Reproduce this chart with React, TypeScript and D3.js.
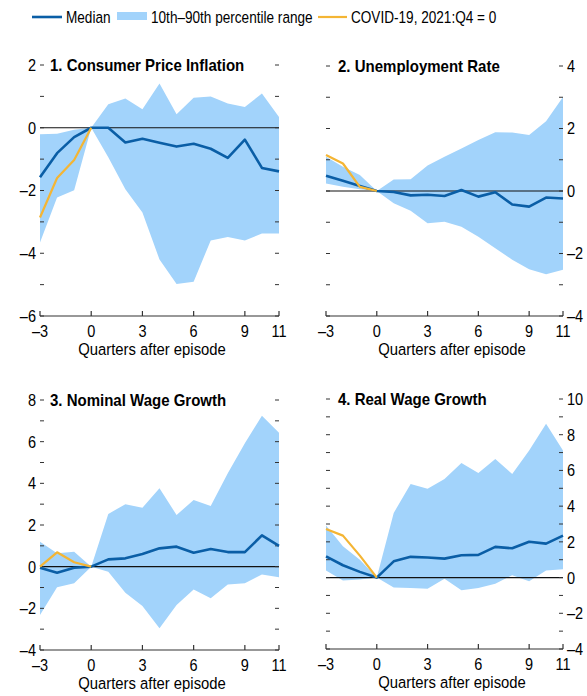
import React from 'react';
import * as d3 from 'd3';

// quarters relative to the episode
const QUARTERS = [-3, -2, -1, 0, 1, 2, 3, 4, 5, 6, 7, 8, 9, 10, 11];
const COVID_QUARTERS = [-3, -2, -1, 0];
const X_TICKS = [-3, 0, 3, 6, 9, 11];

// 1. Consumer price inflation
const CPI_MEDIAN = [-1.58, -0.81, -0.3, 0, 0, -0.47, -0.35, -0.48, -0.6, -0.51, -0.67, -0.96, -0.38, -1.28, -1.39];
const CPI_P90 = [-0.21, -0.19, -0.06, 0, 0.75, 0.93, 0.59, 1.41, 0.43, 0.96, 1.0, 0.77, 0.66, 1.09, 0.34];
const CPI_P10 = [-3.66, -2.22, -1.99, 0, -0.94, -1.96, -2.7, -4.2, -4.98, -4.91, -3.59, -3.48, -3.59, -3.37, -3.37];
const CPI_COVID = [-2.86, -1.6, -1.03, 0];

// 2. Unemployment rate
const UR_MEDIAN = [0.49, 0.33, 0.16, 0, -0.03, -0.14, -0.12, -0.16, 0.03, -0.18, -0.04, -0.43, -0.5, -0.21, -0.24];
const UR_P90 = [1.1, 0.78, 0.51, 0, 0.37, 0.38, 0.82, 1.1, 1.36, 1.63, 1.88, 1.87, 1.79, 2.23, 3.01];
const UR_P10 = [0.24, 0.14, 0.06, 0, -0.39, -0.63, -1.03, -0.98, -1.14, -1.46, -1.83, -2.2, -2.5, -2.66, -2.52];
const UR_COVID = [1.15, 0.88, 0.13, 0];

// 3. Nominal wage growth
const NW_MEDIAN = [-0.05, -0.29, -0.05, 0, 0.35, 0.4, 0.61, 0.88, 0.96, 0.67, 0.85, 0.7, 0.7, 1.5, 1.0];
const NW_P90 = [1.2, 0.64, 0.72, 0, 2.53, 3.0, 2.83, 3.76, 2.48, 3.2, 2.91, 4.48, 5.92, 7.25, 6.43];
const NW_P10 = [-2.32, -0.99, -0.8, 0, -0.24, -1.25, -1.89, -2.96, -1.84, -1.09, -1.52, -0.85, -0.8, -0.37, -0.51];
const NW_COVID = [0.0, 0.69, 0.21, 0];

// 4. Real wage growth
const RW_MEDIAN = [1.19, 0.69, 0.32, 0, 0.91, 1.16, 1.12, 1.06, 1.25, 1.27, 1.72, 1.64, 2.01, 1.9, 2.35];
const RW_P90 = [2.91, 1.75, 1.0, 0, 3.62, 5.24, 4.98, 5.52, 6.42, 5.86, 6.64, 5.8, 7.11, 8.62, 7.11];
const RW_P10 = [0.39, -0.17, -0.11, 0, -0.56, -0.58, -0.62, -0.07, -0.71, -0.58, -0.34, 0.13, -0.21, 0.39, 0.47];
const RW_COVID = [2.72, 2.35, 1.23, 0];

const TITLES = ['1. Consumer Price Inflation', '2. Unemployment Rate', '3. Nominal Wage Growth', '4. Real Wage Growth'];
const Y_DOMAINS = [[-6, 2], [-4, 4], [-4, 8], [-4, 10]];
const Y_LABELS = [[-6, -4, -2, 0, 2], [-4, -2, 0, 2, 4], [-4, -2, 0, 2, 4, 6, 8], [-4, -2, 0, 2, 4, 6, 8, 10]];

const SERIES = [
  { median: CPI_MEDIAN, p10: CPI_P10, p90: CPI_P90, covid: CPI_COVID },
  { median: UR_MEDIAN, p10: UR_P10, p90: UR_P90, covid: UR_COVID },
  { median: NW_MEDIAN, p10: NW_P10, p90: NW_P90, covid: NW_COVID },
  { median: RW_MEDIAN, p10: RW_P10, p90: RW_P90, covid: RW_COVID },
];

// plot boxes (left, right, top, bottom) and which side carries labels
const LAYOUT = [
  { l: 40, r: 279, t: 65, b: 316, side: 'left', xLabel: 152 },
  { l: 326, r: 563, t: 66, b: 316, side: 'right', xLabel: 452 },
  { l: 40, r: 279, t: 400, b: 650, side: 'left', xLabel: 152 },
  { l: 326, r: 563, t: 399, b: 649, side: 'right', xLabel: 452 },
];

const BLUE = '#0a5ea6';
const BAND = '#a2d3fb';
const GOLD = '#f4b534';
const AXIS = '#333';
const FONT = '"Liberation Sans", Arial, sans-serif';

const fmt = (v: number) => (v < 0 ? '\u2013' + Math.abs(v) : String(v));

// narrow-looking text: no condensed face is installed, so squeeze horizontally
function T({ x, y, sx = 0.88, anchor = 'start', size = 16.5, weight = 'normal', dy, children }: any) {
  return (
    <text transform={`translate(${x},${y}) scale(${sx},1)`} textAnchor={anchor} dy={dy}
      fontSize={size} fontWeight={weight} fill="#000">{children}</text>
  );
}

function Panel({ i }: { i: number }) {
  const L = LAYOUT[i];
  const s = SERIES[i];
  const x = d3.scaleLinear().domain([-3, 11]).range([L.l, L.r]);
  const y = d3.scaleLinear().domain(Y_DOMAINS[i]).range([L.b, L.t]);

  const band = d3.area<number>()
    .x((q) => x(q))
    .y0((_, k) => y(s.p10[k]))
    .y1((_, k) => y(s.p90[k]));
  const medianPath = d3.line<number>().x((q) => x(q)).y((_, k) => y(s.median[k]))(QUARTERS);
  const covidPath = d3.line<number>().x((q) => x(q)).y((_, k) => y(s.covid[k]))(COVID_QUARTERS);

  const [lo, hi] = Y_DOMAINS[i];
  const minor = d3.range(lo, hi + 1);
  const left = L.side === 'left';

  return (
    <g>
      <path d={band(QUARTERS) || ''} fill={BAND} />
      <line x1={L.l} x2={L.r} y1={y(0)} y2={y(0)} stroke="#111" strokeWidth={1.2} />
      {minor.map((v) => (
        <g key={v}>
          <line x1={L.l} x2={L.l + 4} y1={y(v)} y2={y(v)} stroke={AXIS} strokeWidth={1} />
          <line x1={L.r - 4} x2={L.r} y1={y(v)} y2={y(v)} stroke={AXIS} strokeWidth={1} />
        </g>
      ))}
      {Y_LABELS[i].map((v) => (
        <T key={v} x={left ? L.l - 4 : L.r + 4} y={y(v)} dy="0.36em" anchor={left ? 'end' : 'start'}>{fmt(v)}</T>
      ))}
      <line x1={L.l} x2={L.r} y1={L.b} y2={L.b} stroke={AXIS} strokeWidth={1.2} />
      {X_TICKS.map((q) => (
        <g key={q}>
          <line x1={x(q)} x2={x(q)} y1={L.b} y2={L.b - 5} stroke={AXIS} strokeWidth={1.2} />
          <T x={x(q)} y={L.b + 21} anchor="middle">{fmt(q)}</T>
        </g>
      ))}
      <T x={L.xLabel} y={L.b + 39} anchor="middle" sx={0.9}>Quarters after episode</T>
      <path d={medianPath || ''} fill="none" stroke={BLUE} strokeWidth={2.6} strokeLinejoin="round" />
      <path d={covidPath || ''} fill="none" stroke={GOLD} strokeWidth={2.2} strokeLinejoin="round" />
      <T x={L.l + (left ? 10 : 12)} y={L.t + 5.5} weight="bold" sx={0.91}>{TITLES[i]}</T>
    </g>
  );
}

export default function App() {
  return (
    <svg width={587} height={696} style={{ position: 'absolute', left: 0, top: 0, fontFamily: FONT }}>
      <rect width={587} height={696} fill="#fff" />
      <line x1={32} x2={62} y1={17} y2={17} stroke={BLUE} strokeWidth={2.6} />
      <T x={66} y={17} dy="0.36em" size={17} sx={0.8}>Median</T>
      <rect x={117} y={12} width={30} height={8} fill={BAND} />
      <T x={151} y={17} dy="0.36em" size={17} sx={0.8}>10th–90th percentile range</T>
      <line x1={318} x2={347} y1={17} y2={17} stroke={GOLD} strokeWidth={2.2} />
      <T x={351} y={17} dy="0.36em" size={17} sx={0.8}>COVID-19, 2021:Q4 = 0</T>
      {[0, 1, 2, 3].map((i) => <Panel key={i} i={i} />)}
    </svg>
  );
}
